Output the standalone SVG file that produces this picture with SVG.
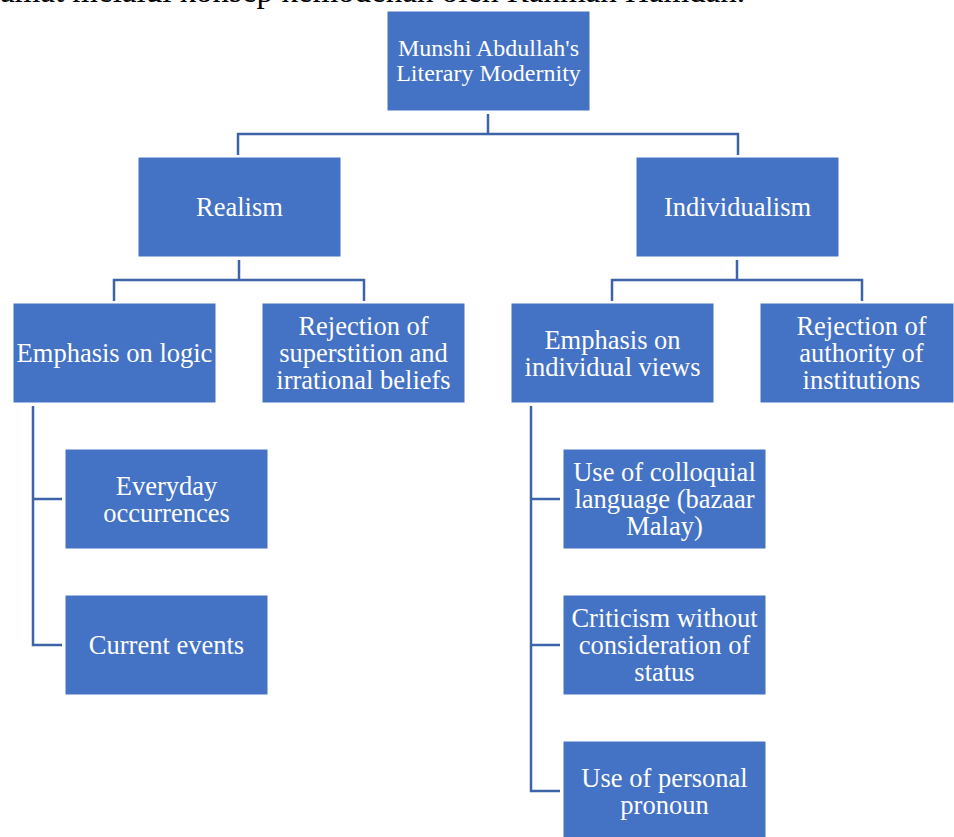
<svg xmlns="http://www.w3.org/2000/svg" width="954" height="837" viewBox="0 0 954 837">
<style>
.box{fill:#4472C4;stroke:#ffffff;stroke-width:1}
.t{font-family:"Liberation Serif","Times New Roman",serif;font-size:26.5px;fill:#ffffff;text-anchor:middle}
.t0{font-size:24px}
.c{fill:none;stroke:#3D63A8;stroke-width:2.5}
.cap{font-family:"Liberation Serif","Times New Roman",serif;font-size:33px;fill:#000000;text-anchor:end}
</style>
<rect width="954" height="837" fill="#ffffff"/>
<text class="cap" x="745" y="2">amat melalui konsep kemodenan oleh Rahmah Hamdan.</text>
<g id="connectors">
<path class="c" d="M488,114 V134 M238,155 V134 H738 V155"/>
<path class="c" d="M239,260 V280 M114,301 V280 H364 V301"/>
<path class="c" d="M737,260 V280 M612,301 V280 H862 V301"/>
<path class="c" d="M33,406 V645 H62 M33,499 H62"/>
<path class="c" d="M531,406 V791 H560 M531,499 H560 M531,645 H560"/>
</g>
<g id="root"><rect class="box" x="387" y="11" width="203" height="100"/><text class="t t0" x="488.5" y="56">Munshi Abdullah's</text><text class="t t0" x="488.5" y="81">Literary Modernity</text></g>
<g id="realism"><rect class="box" x="138" y="157" width="203" height="100"/><text class="t" x="239.5" y="216">Realism</text></g>
<g id="individualism"><rect class="box" x="636" y="157" width="203" height="100"/><text class="t" x="737.5" y="216">Individualism</text></g>
<g id="logic"><rect class="box" x="13" y="303" width="203" height="100"/><text class="t" x="114.5" y="362">Emphasis on logic</text></g>
<g id="superstition"><rect class="box" x="262" y="303" width="203" height="100"/><text class="t" x="363.5" y="335">Rejection of</text><text class="t" x="363.5" y="362">superstition and</text><text class="t" x="363.5" y="389">irrational beliefs</text></g>
<g id="individual-views"><rect class="box" x="511" y="303" width="203" height="100"/><text class="t" x="612.5" y="349">Emphasis on</text><text class="t" x="612.5" y="376">individual views</text></g>
<g id="authority"><rect class="box" x="760" y="303" width="194" height="100"/><text class="t" x="861.5" y="335">Rejection of</text><text class="t" x="861.5" y="362">authority of</text><text class="t" x="861.5" y="389">institutions</text></g>
<g id="everyday"><rect class="box" x="65" y="449" width="203" height="100"/><text class="t" x="166.5" y="495">Everyday</text><text class="t" x="166.5" y="522">occurrences</text></g>
<g id="current"><rect class="box" x="65" y="595" width="203" height="100"/><text class="t" x="166.5" y="654">Current events</text></g>
<g id="colloquial"><rect class="box" x="563" y="449" width="203" height="100"/><text class="t" x="664.5" y="481">Use of colloquial</text><text class="t" x="664.5" y="508">language (bazaar</text><text class="t" x="664.5" y="535">Malay)</text></g>
<g id="criticism"><rect class="box" x="563" y="595" width="203" height="100"/><text class="t" x="664.5" y="627">Criticism without</text><text class="t" x="664.5" y="654">consideration of</text><text class="t" x="664.5" y="681">status</text></g>
<g id="pronoun"><rect class="box" x="563" y="741" width="203" height="100"/><text class="t" x="664.5" y="787">Use of personal</text><text class="t" x="664.5" y="814">pronoun</text></g>
</svg>
